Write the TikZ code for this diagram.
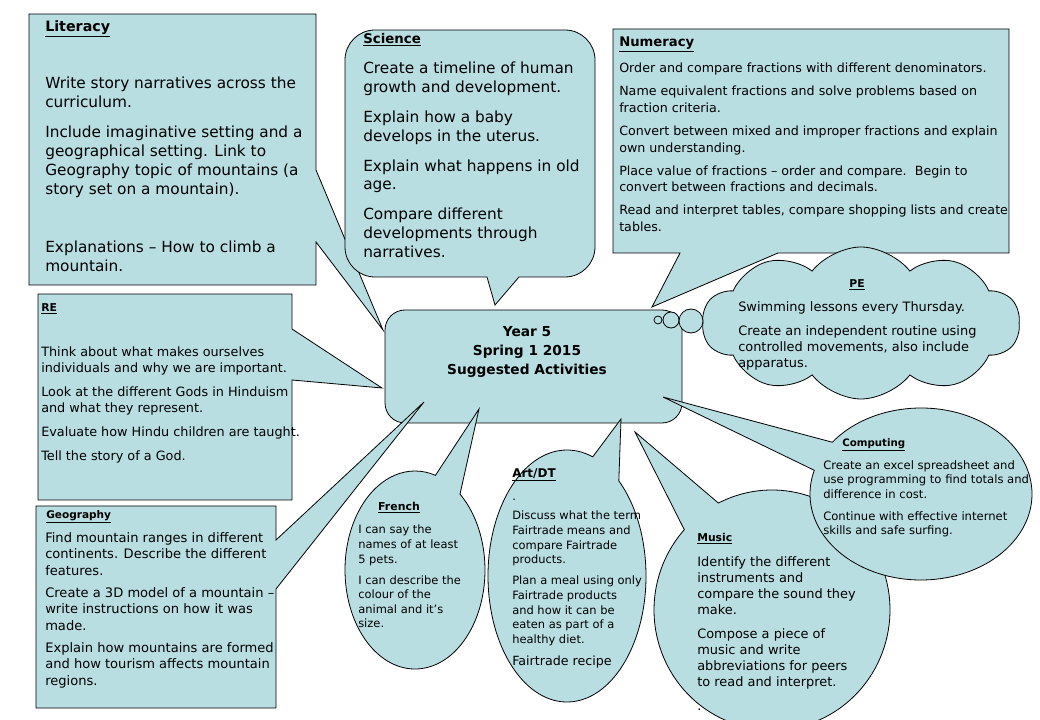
\documentclass[tikz,border=0pt]{standalone}
\usepackage{fontspec}
\setmainfont{DejaVu Sans}
\usetikzlibrary{shapes.symbols}
\definecolor{bubble}{RGB}{185,222,226}
\newcommand{\fsz}[2]{\fontsize{#1}{#2}\selectfont}
\tikzset{
  callout/.style={draw=black, fill=bubble, line width=0.6pt},
  hd/.style={anchor=north west, inner sep=0pt, font=\fsz{#1}{#1}\bfseries},
  txt/.style n args={2}{anchor=north west, inner sep=0pt, align=left, font=\fsz{#1}{#2}},
}

\begin{document}
\begin{tikzpicture}[x=0.75pt,y=0.75pt,yscale=-1,xscale=1]
		\useasboundingbox (0,0) rectangle (1040,720);
		\clip (0,0) rectangle (1040,720);
		
		%Shape: Rounded Rect [centre]
		\draw [callout, rounded corners=15] (385,310) rectangle (682,423);
		% Text Node
		\draw (527,352) node (centre) [align=center, inner sep=0pt, font=\fsz{10.3}{14.6}\bfseries] {Year 5\\Spring 1 2015\\Suggested Activities};
		
		%Callout: Literacy
		\draw [callout] (29,14) -- (316,14) -- (316,170) -- (383,330) -- (316,242) -- (316,285) -- (29,285) -- cycle;
		% Text Node
		\draw (45,20) node (littitle) [hd=10.7] {\underline{Literacy}};
		% Text Node
		\draw (45,77) node (litbody) [txt={11.5}{14.1}] {Write story narratives across the\\curriculum.\\[8.5pt]Include imaginative setting and a\\geographical setting. Link to\\Geography topic of mountains (a\\story set on a mountain).\\[29.5pt]Explanations -- How to climb a\\mountain.};
		
		%Callout: RE
		\draw [callout] (38,294) -- (292,294) -- (292,329) -- (382,388) -- (292,380) -- (292,500) -- (38,500) -- cycle;
		% Text Node
		\draw (41,303) node (retitle) [hd=8.1] {\underline{RE}};
		% Text Node
		\draw (41,347) node (rebody) [txt={9.6}{12}] {Think about what makes ourselves\\individuals and why we are important.\\[6pt]Look at the different Gods in Hinduism\\and what they represent.\\[6pt]Evaluate how Hindu children are taught.\\[6pt]Tell the story of a God.};
		
		%Callout: Geography
		\draw [callout] (36,506) -- (276,506) -- (276,540) -- (424,402) -- (276,589) -- (276,708) -- (36,708) -- cycle;
		% Text Node
		\draw (46,510) node (geotitle) [hd=7.9] {\underline{Geography}};
		% Text Node
		\draw (45,532) node (geobody) [txt={9.8}{12.6}] {Find mountain ranges in different\\continents. Describe the different\\features.\\[3.4pt]Create a 3D model of a mountain --\\write instructions on how it was\\made.\\[3.4pt]Explain how mountains are formed\\and how tourism affects mountain\\regions.};
		
		%Callout: Science
		\draw [callout] (375,30) -- (565,30) arc[start angle=270, end angle=360, radius=30] -- (595,247) arc[start angle=0, end angle=90, radius=30] -- (519,277) -- (495,305) -- (487,277) -- (375,277) arc[start angle=90, end angle=180, radius=30] -- (345,60) arc[start angle=180, end angle=270, radius=30] -- cycle;
		% Text Node
		\draw (363,33) node (scititle) [hd=10] {\underline{Science}};
		% Text Node
		\draw (363,62) node (scibody) [txt={11.5}{14}] {Create a timeline of human\\growth and development.\\[8.5pt]Explain how a baby\\develops in the uterus.\\[8.5pt]Explain what happens in old\\age.\\[8.5pt]Compare different\\developments through\\narratives.};
		
		%Callout: Numeracy
		\draw [callout] (613,29) -- (1009,29) -- (1009,253) -- (778,253) -- (652,307) -- (680,253) -- (613,253) -- cycle;
		% Text Node
		\draw (619,37) node (numtitle) [hd=9.9] {\underline{Numeracy}};
		% Text Node
		\draw (619,63) node (numbody) [txt={9.5}{12.4}] {Order and compare fractions with different denominators.\\[4.9pt]Name equivalent fractions and solve problems based on\\fraction criteria.\\[4.9pt]Convert between mixed and improper fractions and explain\\own understanding.\\[4.9pt]Place value of fractions -- order and compare.\ \ Begin to\\convert between fractions and decimals.\\[4.9pt]Read and interpret tables, compare shopping lists and create\\tables.};
		
		%Shape: Cloud [PE]
		\node (pecloud) [callout, cloud, cloud puffs=10, cloud puff arc=105, aspect=2.1, inner sep=0pt, minimum width=238pt, minimum height=114pt] at (861,323) {};
		%Shape: Circle
		\draw [callout] (658,320) circle [radius=4];
		%Shape: Circle
		\draw [callout] (671,320) circle [radius=8];
		%Shape: Circle
		\draw [callout] (691,321) circle [radius=12];
		% Text Node
		\draw (857,279) node (petitle) [hd=8.1, anchor=north] {\underline{PE}};
		% Text Node
		\draw (738,301) node (pebody) [txt={9.7}{12}] {Swimming lessons every Thursday.\\[6pt]Create an independent routine using\\controlled movements, also include\\apparatus.};
		
		%Callout: French
		\draw [callout] (479,409) -- ([shift={(310:70 and 99)}]415,570) arc[start angle=310, end angle=647, x radius=70, y radius=99] -- cycle;
		% Text Node
		\draw (399,502) node (frtitle) [hd=8.2, anchor=north] {\underline{French}};
		% Text Node
		\draw (358,525) node (frbody) [txt={8.6}{10.9}] {I can say the\\names of at least\\5 pets.\\[4.9pt]I can describe the\\colour of the\\animal and it’s\\size.};
		
		%Callout: Art/DT
		\draw [callout] (621,419) -- ([shift={(311:79 and 126)}]567,576) arc[start angle=311, end angle=649, x radius=79, y radius=126] -- cycle;
		% Text Node
		\draw (512,468) node (arttitle) [hd=9] {\underline{Art/DT}};
		% Text Node
		\draw (512,500) node (artdot) [anchor=base west, inner sep=0pt, font=\fsz{8.6}{11}] {.};
		% Text Node
		\draw (512,511) node (artbody) [txt={8.6}{11}] {Discuss what the term\\Fairtrade means and\\compare Fairtrade\\products.\\[4.7pt]Plan a meal using only\\Fairtrade products\\and how it can be\\eaten as part of a\\healthy diet.\\[5.5pt]{\fsz{9.5}{12}Fairtrade recipe}};
		
		%Callout: Music
		\draw [callout] (635,432) -- ([shift={(243:118 and 120)}]772,610) arc[start angle=243, end angle=582, x radius=118, y radius=120] -- cycle;
		% Text Node
		\draw (697,533) node (mustitle) [hd=8.1] {\underline{Music}};
		% Text Node
		\draw (697,556) node (musbody) [txt={9.7}{12}] {Identify the different\\instruments and\\compare the sound they\\make.\\[6pt]Compose a piece of\\music and write\\abbreviations for peers\\to read and interpret.\\[6pt].};
		
		%Callout: Computing
		\draw [callout] (663,397) -- ([shift={(217:111 and 86)}]921,494) arc[start angle=217, end angle=556, x radius=111, y radius=86] -- cycle;
		% Text Node
		\draw (842,438) node (comtitle) [hd=7.7] {\underline{Computing}};
		% Text Node
		\draw (823,460) node (combody) [txt={8.7}{10.9}] {Create an excel spreadsheet and\\use programming to find totals and\\difference in cost.\\[5.6pt]Continue with effective internet\\skills and safe surfing.};
		
	\end{tikzpicture}
\end{document}
